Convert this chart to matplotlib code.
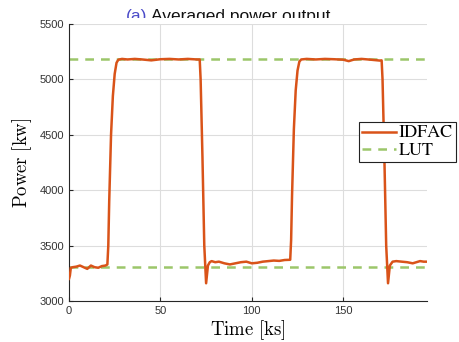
import matplotlib
matplotlib.use("Agg")
import matplotlib.pyplot as plt
from matplotlib.patches import Rectangle

plt.rcParams['mathtext.fontset'] = 'cm'

# Data
time_ks = [0, 0.5, 1, 2, 4, 6, 8, 10, 12, 14, 16, 18, 20, 21, 21.5, 22, 23, 24, 25, 26, 27,
           29, 32, 36, 40, 45, 50, 55, 60, 65, 70, 71.5, 72, 73, 74, 75, 76, 77, 78, 80,
           82, 85, 88, 91, 94, 97, 100, 103, 106, 109, 112, 115, 118, 121, 121.5, 122, 123,
           124, 125, 126, 127, 130, 135, 140, 145, 150, 153, 156, 160, 165, 170, 171, 171.5,
           172.5, 173.5, 174.5, 175.5, 177, 179, 182, 185, 188, 190, 192, 194, 196]
idfac_kw = [3200, 3230, 3300, 3305, 3310, 3320, 3305, 3290, 3320, 3305, 3300, 3315, 3320, 3330,
            3500, 3900, 4500, 4850, 5050, 5150, 5178,
            5185, 5180, 5185, 5180, 5172, 5182, 5185, 5180, 5185, 5180, 5180, 5000, 4300, 3500,
            3160, 3320, 3350, 3360, 3350,
            3355, 3340, 3330, 3340, 3350, 3355, 3340, 3345, 3355, 3360, 3365, 3362, 3370, 3372,
            3550, 3950, 4550, 4900, 5080, 5160, 5180, 5185, 5180, 5185, 5182, 5178, 5165, 5180,
            5185, 5178, 5170, 5172, 5000, 4300, 3500, 3160, 3320, 3355, 3360, 3355, 3350, 3340,
            3350, 3360, 3355, 3355]
lut_high_kw = 5185
lut_low_kw = 3310

xticks = [0, 50, 100, 150]
yticks = [3000, 3500, 4000, 4500, 5000, 5500]

fig = plt.figure(figsize=(4.59, 3.42), dpi=100)
ax = fig.add_axes([0.1503, 0.1199, 0.7807, 0.8099])
ax.set_zorder(2)
ax.patch.set_facecolor('white')

ax.plot(time_ks, idfac_kw, color='#D95319', lw=1.8, label='IDFAC', zorder=3)
ax.axhline(lut_high_kw, color='#9cc66a', lw=1.8, ls=(0, (3.5, 2.8)), label='LUT', zorder=2)
ax.axhline(lut_low_kw, color='#9cc66a', lw=1.8, ls=(0, (3.5, 2.8)), zorder=2)

ax.set_xlim(0, 196)
ax.set_ylim(3000, 5500)
ax.set_xticks(xticks)
ax.set_yticks(yticks)
ax.grid(True, color='#dddddd', lw=0.8)
ax.set_axisbelow(True)
for s in ['top', 'right']:
    ax.spines[s].set_visible(False)
for s in ['left', 'bottom']:
    ax.spines[s].set_color('#262626')
    ax.spines[s].set_linewidth(0.8)
ax.tick_params(direction='in', length=3, width=0.8, color='#262626',
               labelsize=8, labelcolor='#333333')
for lbl in ax.get_xticklabels() + ax.get_yticklabels():
    lbl.set_fontfamily('Liberation Sans')

ax.set_xlabel(r'$\mathrm{Time\ [ks]}$', fontsize=13.5, labelpad=2)
ax.set_ylabel(r'$\mathrm{Power\ [kw]}$', fontsize=13.5, labelpad=4)

leg = ax.legend(loc='upper left', bbox_to_anchor=(359/459, 1-122/342),
                bbox_transform=fig.transFigure, prop={'family': 'DejaVu Serif', 'size': 11},
                frameon=True, fancybox=False, edgecolor='#222222', framealpha=1,
                borderpad=0.2, handlelength=2.2, handletextpad=0.2, labelspacing=0.1,
                borderaxespad=0)
leg.get_frame().set_linewidth(0.8)
for t in leg.get_texts():
    t.set_fontfamily('STIXGeneral')
    t.set_fontsize(13)

# Title (partially hidden at its lower edge as in the reference)
tt = fig.text(126/459, 1-20.5/342, '(a)', color='#4a4ac8', fontsize=12.5,
              family='Liberation Sans', ha='left', va='baseline', zorder=1)
fig.canvas.draw()
bb = tt.get_window_extent()
fig.text((bb.x1 + 4)/459, 1-20.5/342, 'Averaged power output', color='#111111', fontsize=12.5,
         family='Liberation Sans', ha='left', va='baseline', zorder=1)
fig.patches.append(Rectangle((110/459, 1-24/342), 250/459, 6.5/342, transform=fig.transFigure,
                             facecolor='white', edgecolor='none', zorder=1.5))

fig.savefig('out.png', dpi=100)
